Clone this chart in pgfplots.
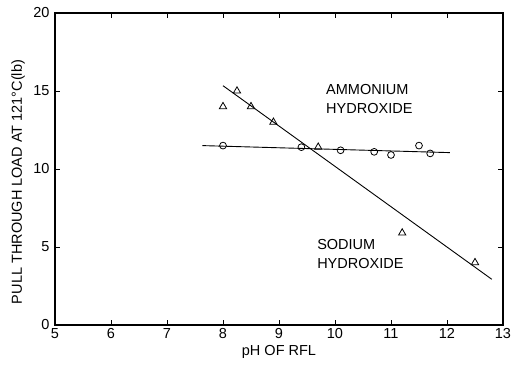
\documentclass[border=0pt]{standalone}
\usepackage{pgfplots}
\pgfplotsset{compat=1.18}
\usepackage{fontspec}
\setmainfont{Liberation Sans}

\newcommand{\chartfont}{\fontsize{14.5}{19}\selectfont}

\begin{document}
\begin{tikzpicture}
\begin{axis}[
  scale only axis,
  width=448pt, height=312pt,
  xmin=5, xmax=13, ymin=0, ymax=20,
  xtick={5,...,13}, ytick={0,5,...,20},
  tick align=inside,
  major tick length=5pt,
  tick style={line width=0.9pt, black},
  axis line style={line width=1.4pt},
  tick label style={font=\chartfont},
  /pgf/number format/assume math mode=true,
  xticklabel style={yshift=-2pt, inner sep=1pt},
  yticklabel style={xshift=-2pt},
  xlabel={pH OF RFL},
  ylabel={PULL THROUGH LOAD AT 121\textdegree C(lb)},
  every axis x label/.style={at={([yshift=-27pt]axis description cs:0.5,0)}, anchor=center, inner sep=0pt, font=\chartfont},
  every axis y label/.style={at={([xshift=-37pt, yshift=-13pt]axis description cs:0,0.5)}, anchor=center, rotate=90, font=\chartfont},
  clip=false,
]
% sodium hydroxide measurements
\addplot[only marks, mark=triangle, mark size=4.2pt, mark options={line width=0.8pt}]
  coordinates {(8,14) (8.25,15) (8.5,14) (8.9,13) (9.7,11.4) (11.2,5.9) (12.5,4)};
% ammonium hydroxide measurements
\addplot[only marks, mark=o, mark size=3.4pt, mark options={line width=0.8pt}]
  coordinates {(8,11.5) (9.4,11.4) (10.1,11.2) (10.7,11.1) (11,10.9) (11.5,11.5) (11.7,11.0)};
% fitted trend lines
\addplot[line width=0.9pt] coordinates {(7.63,11.5) (12.05,11.05)};
\addplot[line width=0.9pt] coordinates {(8.0,15.34) (12.8,2.93)};
\node[align=left, anchor=west, font=\chartfont, inner sep=0pt] at (axis cs:9.84,14.5) {AMMONIUM\\HYDROXIDE};
\node[align=left, anchor=west, font=\chartfont, inner sep=0pt] at (axis cs:9.68,4.52) {SODIUM\\HYDROXIDE};
\end{axis}
\useasboundingbox (-55pt,-45pt) rectangle (460pt,325pt);
\end{tikzpicture}
\end{document}
